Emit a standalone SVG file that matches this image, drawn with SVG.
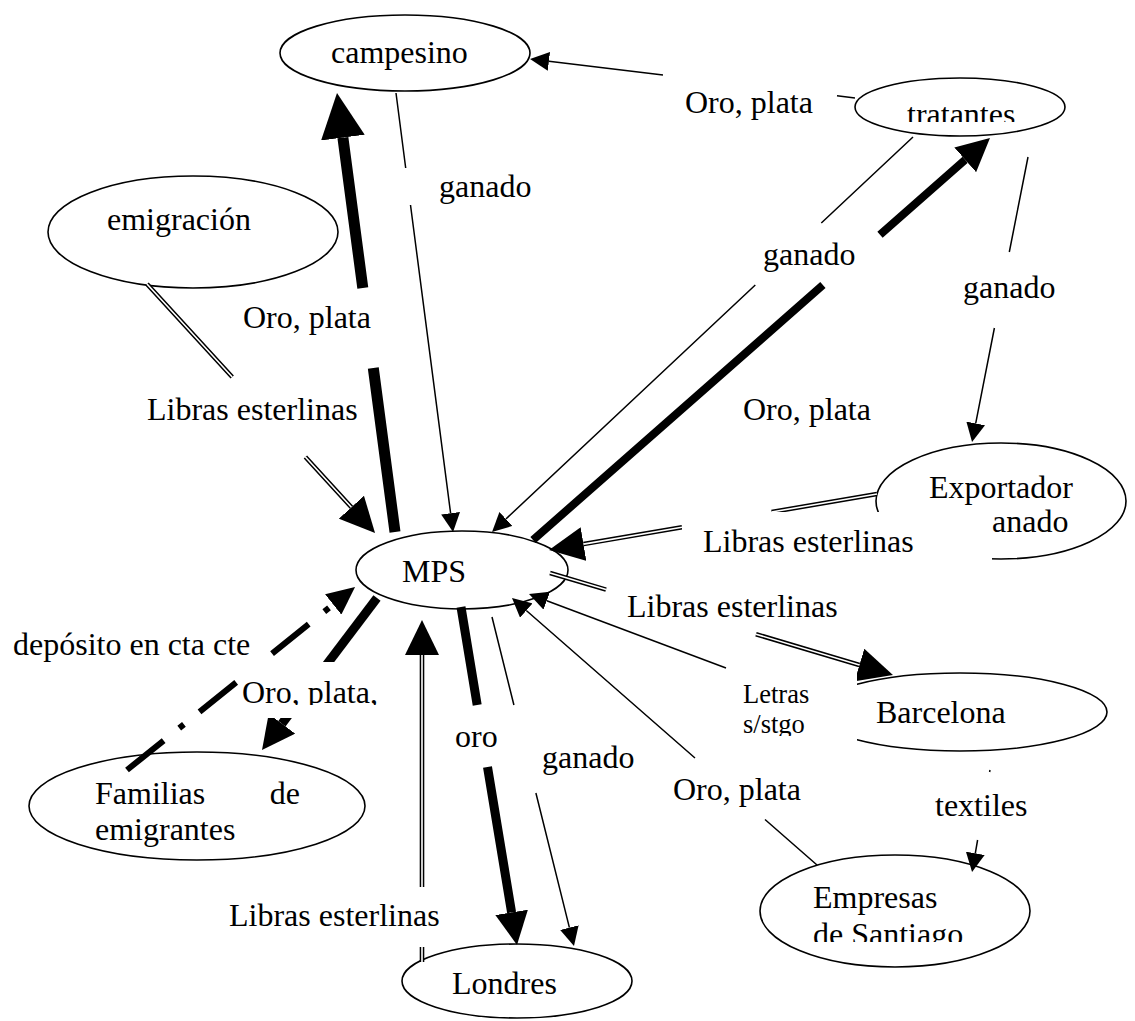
<svg xmlns="http://www.w3.org/2000/svg" width="1135" height="1021" viewBox="0 0 1135 1021">
<style>
.n{fill:#fff;stroke:#000;stroke-width:1.6}
.t{font-family:"Liberation Serif","Times New Roman",serif;font-size:32px;fill:#000}
.ts{font-size:26.5px}
.ln{fill:none;stroke:#000;stroke-linecap:butt}
.thin{stroke-width:1.5}
.dbo{stroke-width:4.6}
.dbi{fill:none;stroke:#fff;stroke-width:1.6}
.dd{stroke-width:6;stroke-dasharray:47 20 6 20}
.box{fill:#fff;stroke:none}
</style>
<defs>
<marker id="aS" markerUnits="userSpaceOnUse" markerWidth="19" markerHeight="19" viewBox="0 0 19 19" refX="0" refY="9.5" orient="auto"><path d="M0,0 L19,9.5 L0,19 Z" fill="#000"/></marker>
<marker id="aM" markerUnits="userSpaceOnUse" markerWidth="33" markerHeight="33" viewBox="0 0 33 33" refX="0" refY="16.5" orient="auto"><path d="M0,0 L33,16.5 L0,33 Z" fill="#000"/></marker>
<marker id="aL" markerUnits="userSpaceOnUse" markerWidth="45" markerHeight="44" viewBox="0 0 45 44" refX="0" refY="22" orient="auto"><path d="M0,0 L45,22 L0,44 Z" fill="#000"/></marker>
<marker id="aD" markerUnits="userSpaceOnUse" markerWidth="35" markerHeight="34" viewBox="0 0 35 34" refX="0" refY="17" orient="auto"><path d="M0,0 L35,17 L0,34 Z" fill="#000"/></marker>
<marker id="aDD" markerUnits="userSpaceOnUse" markerWidth="28" markerHeight="26" viewBox="0 0 28 26" refX="0" refY="13" orient="auto"><path d="M0,0 L28,13 L0,26 Z" fill="#000"/></marker>
<clipPath id="cT" clipPathUnits="userSpaceOnUse"><rect x="850" y="80" width="220" height="42"/></clipPath>
<clipPath id="cS" clipPathUnits="userSpaceOnUse"><rect x="760" y="880" width="280" height="62"/></clipPath>
<clipPath id="cL" clipPathUnits="userSpaceOnUse"><rect x="726" y="668" width="131" height="68"/></clipPath>
<clipPath id="cO" clipPathUnits="userSpaceOnUse"><rect x="230" y="662" width="170" height="43"/></clipPath>
</defs>
<rect width="1135" height="1021" fill="#fff"/>

<g id="nodes">
<g id="campesino"><ellipse class="n" cx="405" cy="53" rx="125" ry="38"/><text class="t" x="331" y="63">campesino</text></g>
<g id="tratantes"><ellipse class="n" cx="960" cy="107" rx="105" ry="29"/><text class="t" x="907" y="125" clip-path="url(#cT)">tratantes</text></g>
<g id="emigracion"><ellipse class="n" cx="193" cy="232" rx="145" ry="56"/><text class="t" x="107" y="230">emigración</text></g>
<g id="mps"><ellipse class="n" cx="462" cy="570" rx="106" ry="39"/><text class="t" x="402" y="582">MPS</text></g>
<g id="exportador"><ellipse class="n" cx="1001" cy="501" rx="125" ry="58"/><text class="t" x="929" y="498">Exportador</text><text class="t" x="992" y="532">anado</text></g>
<g id="barcelona"><ellipse class="n" cx="960" cy="712" rx="147" ry="39"/><text class="t" x="876" y="723">Barcelona</text></g>
<g id="familias"><ellipse class="n" cx="197" cy="806" rx="168" ry="54"/><text class="t" x="95" y="804">Familias</text><text class="t" x="300" y="804" text-anchor="end">de</text><text class="t" x="95" y="840">emigrantes</text></g>
<g id="londres"><ellipse class="n" cx="517" cy="981" rx="115" ry="37"/><text class="t" x="452" y="994">Londres</text></g>
<g id="empresas"><ellipse class="n" cx="895" cy="911" rx="135" ry="56"/><text class="t" x="813" y="908">Empresas</text><text class="t" x="813" y="945" clip-path="url(#cS)">de Santiago</text></g>
</g>

<g id="connectors">
<path class="ln thin" d="M396 93 L405.7 168 M410.5 205 L450.6 513.2" marker-end="url(#aS)"/>
<path class="ln" stroke-width="11" d="M395 532 L373.3 368 M362.8 288 L342.9 137.6" marker-end="url(#aL)"/>
<path class="ln dbo" d="M147 284 L232.2 377 M305.4 457 L351.4 507.2" marker-end="url(#aD)"/>
<path class="dbi" d="M147 284 L232.2 377 M305.4 457 L351.4 507.2"/>
<path class="ln" stroke-width="8" d="M533 540 L822.9 285 M880 234.8 L965.2 159.8" marker-end="url(#aM)"/>
<path class="ln thin" d="M913 137 L821.3 223 M755.3 285 L505.9 519" marker-end="url(#aS)"/>
<path class="ln thin" d="M855 98 L837 95.8 M663 75 L548.9 61.3" marker-end="url(#aS)"/>
<path class="ln thin" d="M1028 157 L1009.3 252 M994.4 328 L975.7 423.4" marker-end="url(#aS)"/>
<path class="ln dbo" d="M877 494 L771.6 512 M682 527.3 L583.5 544.1" marker-end="url(#aD)"/>
<path class="dbi" d="M877 494 L771.6 512 M682 527.3 L583.5 544.1"/>
<path class="ln dbo" d="M550 573 L606 589.6 M756 634.2 L859.4 665" marker-end="url(#aD)"/>
<path class="dbi" d="M550 573 L606 589.6 M756 634.2 L859.4 665"/>
<path class="ln thin" d="M726 668 L546.8 600.7" marker-end="url(#aS)"/>
<path class="ln thin" d="M817 865 L765 819.5 M695 758 L526.3 610.5" marker-end="url(#aS)"/>
<path class="ln" stroke-width="9" d="M377 598 L281.9 723.7" marker-end="url(#aM)"/>
<path class="ln dd" d="M127 770 L333.2 604.5" marker-end="url(#aDD)"/>
<path class="ln" stroke-width="9" d="M461 607 L477.2 705 M487.5 767 L511.6 912.4" marker-end="url(#aM)"/>
<path class="ln thin" d="M492 617 L513.9 705 M535.9 793 L569.4 927.6" marker-end="url(#aS)"/>
<path class="ln dbo" d="M422 962 L422 947 M422 887 L422 655" marker-end="url(#aD)"/>
<path class="dbi" d="M422 962 L422 947 M422 887 L422 655"/>
<path class="ln thin" d="M990 770 L989.6 772 M977.6 840 L975.3 853.3" marker-end="url(#aS)"/>
</g>

<g id="labels">
<rect class="box" x="682" y="512" width="310" height="60"/>
<rect class="box" x="726" y="668" width="131" height="74"/>
<rect class="box" x="240" y="662" width="150" height="56"/>
<text class="t" x="439" y="197">ganado</text>
<text class="t" x="685" y="113">Oro, plata</text>
<text class="t" x="243" y="328">Oro, plata</text>
<text class="t" x="147" y="420">Libras esterlinas</text>
<text class="t" x="763" y="265">ganado</text>
<text class="t" x="963" y="298">ganado</text>
<text class="t" x="743" y="420">Oro, plata</text>
<text class="t" x="703" y="552">Libras esterlinas</text>
<text class="t" x="627" y="617">Libras esterlinas</text>
<text class="t ts" x="743" y="703">Letras</text>
<text class="t ts" x="743" y="733" clip-path="url(#cL)">s/stgo</text>
<text class="t" x="13" y="655">depósito en cta cte</text>
<text class="t" x="242" y="703" clip-path="url(#cO)">Oro, plata,</text>
<text class="t" x="455" y="747">oro</text>
<text class="t" x="542" y="768">ganado</text>
<text class="t" x="229" y="926">Libras esterlinas</text>
<text class="t" x="673" y="800">Oro, plata</text>
<text class="t" x="935" y="816">textiles</text>
</g>
</svg>
